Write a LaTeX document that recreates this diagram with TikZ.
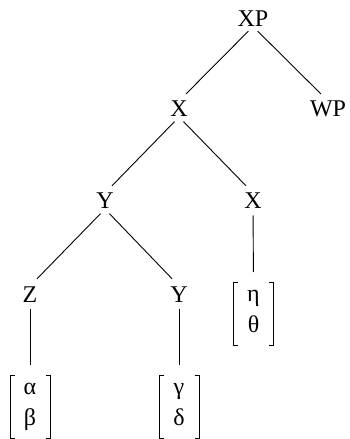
\documentclass[tikz,border=0pt]{standalone}
\usepackage{fontspec}
\setmainfont{Liberation Serif}
\begin{document}
\begin{tikzpicture}[x=1bp,y=-1bp,
  lab/.style={inner sep=0pt,outer sep=0pt,anchor=base,text height=16bp,text depth=0pt,
    font=\fontsize{24bp}{31bp}\selectfont},
  mat/.style={inner sep=0pt,outer sep=0pt,minimum width=40bp,minimum height=63bp,align=center,
    font=\fontsize{24bp}{31bp}\selectfont},
  br/.style={line width=0.9bp},
  edge/.style={line width=0.9bp,shorten <=6.5bp,shorten >=10bp}]
\useasboundingbox (0,0) rectangle (349,439);
% labels
\node[lab] (xp) at (253,26.5) {XP};
\node[lab] (x1) at (179,117) {X};
\node[lab] (wp) at (328,117) {WP};
\node[lab] (y1) at (105,209) {Y};
\node[lab] (x2) at (253,209) {X};
\node[lab] (z) at (30,302) {Z};
\node[lab] (y2) at (179,302) {Y};
% feature matrices
\newcommand{\mtx}[2]{\rule{0pt}{16bp}#1\\#2\rule[-9bp]{0pt}{9bp}}
\node[mat] (m1) at (30,406.5) {\mtx{α}{β}};
\node[mat] (m2) at (179,406.5) {\mtx{γ}{δ}};
\node[mat] (m3) at (253.5,313.5) {\mtx{η}{θ}};
\foreach \m in {m1,m2,m3}{
  \draw[br] ([xshift=4.5bp]\m.north west) -- (\m.north west) -- (\m.south west) -- ++(4.5bp,0);
  \draw[br] ([xshift=-4.5bp]\m.north east) -- (\m.north east) -- (\m.south east) -- ++(-4.5bp,0);
}
% edges
\draw[edge] (xp.south) -- (x1.north);
\draw[edge] (xp.south) -- (wp.north);
\draw[edge] (x1.south) -- (y1.north);
\draw[edge] (x1.south) -- (x2.north);
\draw[edge] (y1.south) -- (z.north);
\draw[edge] (y1.south) -- (y2.north);
\draw[edge] (x2.south) -- (m3.north);
\draw[edge] (z.south) -- (m1.north);
\draw[edge] (y2.south) -- (m2.north);
\end{tikzpicture}
\end{document}
